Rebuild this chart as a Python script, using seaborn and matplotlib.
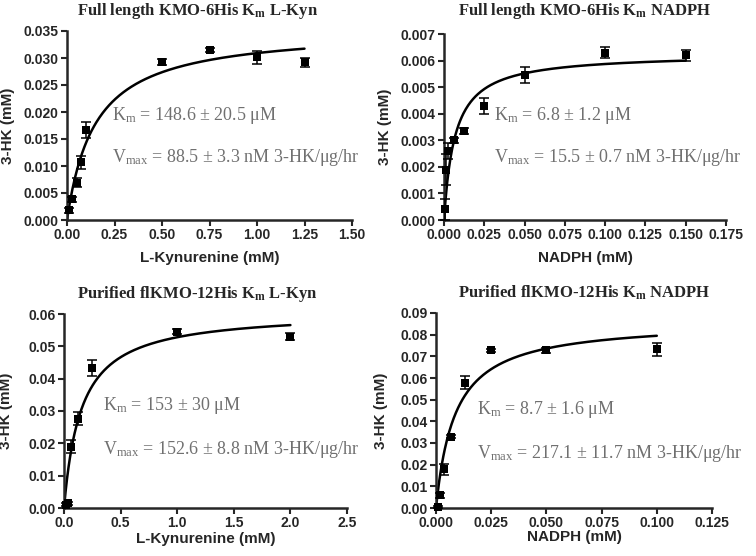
import numpy as np
import pandas as pd
import matplotlib
matplotlib.use("Agg")
import matplotlib.pyplot as plt
from matplotlib.ticker import FormatStrFormatter
import seaborn as sns

# ── Data ──────────────────────────────────────────────────────────────────────
# A: full length KMO-6His, varying L-Kyn
a_x = [0.008, 0.025, 0.05, 0.075, 0.1, 0.5, 0.75, 1.0, 1.25]
a_y = [0.0018, 0.0038, 0.0069, 0.0107, 0.0166, 0.0293, 0.0315, 0.0301, 0.0292]
a_err = [0.0005, 0.0005, 0.0008, 0.0012, 0.0015, 0.0006, 0.0003, 0.0012, 0.0008]
a_km, a_vmax = 0.1486, 0.0355

# B: full length KMO-6His, varying NADPH
b_x = [0.0004, 0.0015, 0.0025, 0.006, 0.0125, 0.025, 0.05, 0.1, 0.15]
b_y = [0.0004, 0.0019, 0.0026, 0.0030, 0.00335, 0.0043, 0.00545, 0.0063, 0.0062]
b_err = [0.0004, 0.0006, 0.0003, 0.0001, 0.0001, 0.0003, 0.0003, 0.0002, 0.0002]
b_km, b_vmax = 0.0068, 0.00627

# C: purified flKMO-12His, varying L-Kyn
c_x = [0.0156, 0.03125, 0.0625, 0.125, 0.25, 1.0, 2.0]
c_y = [0.0010, 0.0014, 0.0190, 0.0276, 0.0434, 0.0545, 0.0530]
c_err = [0.0005, 0.0005, 0.0020, 0.0020, 0.0025, 0.0008, 0.0010]
c_km, c_vmax = 0.153, 0.0609

# D: purified flKMO-12His, varying NADPH
d_x = [0.0009, 0.002, 0.0035, 0.0068, 0.013, 0.025, 0.05, 0.1]
d_y = [0.0005, 0.0058, 0.0178, 0.0330, 0.0577, 0.0728, 0.0727, 0.0733]
d_err = [0.0003, 0.0010, 0.0025, 0.0005, 0.0030, 0.0008, 0.0010, 0.0030]
d_km, d_vmax = 0.0087, 0.0864

titles = ["Full length KMO-6His K$\\mathregular{_m}$ L-Kyn",
          "Full length KMO-6His K$\\mathregular{_m}$ NADPH",
          "Purified flKMO-12His K$\\mathregular{_m}$ L-Kyn",
          "Purified flKMO-12His K$\\mathregular{_m}$ NADPH"]
xlabels = ["L-Kynurenine (mM)", "NADPH (mM)", "L-Kynurenine (mM)", "NADPH (mM)"]
km_texts = ["K$\\mathregular{_m}$ = 148.6 ± 20.5 μM",
            "K$\\mathregular{_m}$ = 6.8 ± 1.2 μM",
            "K$\\mathregular{_m}$ = 153 ± 30 μM",
            "K$\\mathregular{_m}$ = 8.7 ± 1.6 μM"]
vmax_texts = ["V$\\mathregular{_{max}}$ = 88.5 ± 3.3 nM 3-HK/μg/hr",
              "V$\\mathregular{_{max}}$ = 15.5 ± 0.7 nM 3-HK/μg/hr",
              "V$\\mathregular{_{max}}$ = 152.6 ± 8.8 nM 3-HK/μg/hr",
              "V$\\mathregular{_{max}}$ = 217.1 ± 11.7 nM 3-HK/μg/hr"]

# ── Style ─────────────────────────────────────────────────────────────────────
sns.set_style("ticks")
plt.rcParams["font.family"] = ["Liberation Sans", "DejaVu Sans"]
plt.rcParams["mathtext.default"] = "regular"

W, H = 756, 556
fig = plt.figure(figsize=(W / 100, H / 100), dpi=100)

# (left, right, top, bottom) in pixels of each plot area
boxes = [(67, 352, 31, 220), (444, 726, 34, 220),
         (64, 347, 314, 508), (436, 712, 313, 508)]
panels = [
    dict(x=a_x, y=a_y, err=a_err, km=a_km, vmax=a_vmax, xlim=1.5, xstep=0.25, ylim=0.035, ystep=0.005,
         xfmt="%.2f", yfmt="%.3f", title=(198, 15), txt=(112, 115, 157), xpad=6, ypad=6),
    dict(x=b_x, y=b_y, err=b_err, km=b_km, vmax=b_vmax, xlim=0.175, xstep=0.025, ylim=0.007, ystep=0.001,
         xfmt="%.3f", yfmt="%.3f", title=(585, 15), txt=(494, 115, 157), xpad=6, ypad=6),
    dict(x=c_x, y=c_y, err=c_err, km=c_km, vmax=c_vmax, xlim=2.5, xstep=0.5, ylim=0.06, ystep=0.01,
         xfmt="%.1f", yfmt="%.2f", title=(197, 298), txt=(103, 405, 450), xpad=1, ypad=11),
    dict(x=d_x, y=d_y, err=d_err, km=d_km, vmax=d_vmax, xlim=0.125, xstep=0.025, ylim=0.09, ystep=0.01,
         xfmt="%.3f", yfmt="%.2f", title=(584, 298), txt=(477, 410, 453), xpad=0, ypad=9),
]

for i, (p, (l, r, t, b)) in enumerate(zip(panels, boxes)):
    ax = fig.add_axes([l / W, 1 - b / H, (r - l) / W, (b - t) / H])
    df = pd.DataFrame({"x": p["x"], "y": p["y"], "err": p["err"]})

    # Michaelis-Menten fit line from the reported parameters
    xf = np.linspace(0, df["x"].max(), 300)
    sns.lineplot(x=xf, y=p["vmax"] * xf / (p["km"] + xf), color="black", linewidth=1.8, ax=ax)

    ax.errorbar(df["x"], df["y"], yerr=df["err"], fmt="none", ecolor="black",
                elinewidth=1.1, capsize=3.5, capthick=1.1, clip_on=False, zorder=3)
    sns.scatterplot(data=df, x="x", y="y", marker="s", s=38, color="black",
                    edgecolor="black", linewidth=0, ax=ax, clip_on=False, zorder=4)

    ax.set_xlim(0, p["xlim"])
    ax.set_ylim(0, p["ylim"])
    ax.set_xticks(np.arange(0, p["xlim"] + 1e-9, p["xstep"]))
    ax.set_yticks(np.arange(0, p["ylim"] + 1e-9, p["ystep"]))
    ax.xaxis.set_major_formatter(FormatStrFormatter(p["xfmt"]))
    ax.yaxis.set_major_formatter(FormatStrFormatter(p["yfmt"]))
    sns.despine(ax=ax)
    for s in ["left", "bottom"]:
        ax.spines[s].set_linewidth(1.8)
    ax.tick_params(direction="out", length=4, width=1.5, labelsize=10, pad=2)
    for lbl in ax.get_xticklabels() + ax.get_yticklabels():
        lbl.set_fontweight("bold")
    ax.set_xlabel(xlabels[i], fontsize=11, fontweight="bold", labelpad=p["xpad"])
    ax.set_ylabel("3-HK (mM)", fontsize=11, fontweight="bold", labelpad=p["ypad"])

    tx, ty = p["title"]
    fig.text(tx / W, 1 - ty / H, titles[i], ha="center", va="baseline", fontsize=12,
             fontweight="bold", family=["Liberation Serif", "DejaVu Serif"])
    x0, y1, y2 = p["txt"]
    fig.text(x0 / W, 1 - y1 / H, km_texts[i], ha="left", va="center", fontsize=13,
             color="#707070", family=["Liberation Serif", "DejaVu Serif"])
    fig.text(x0 / W, 1 - y2 / H, vmax_texts[i], ha="left", va="center", fontsize=13,
             color="#707070", family=["Liberation Serif", "DejaVu Serif"])

fig.savefig("out.png", dpi=100)
